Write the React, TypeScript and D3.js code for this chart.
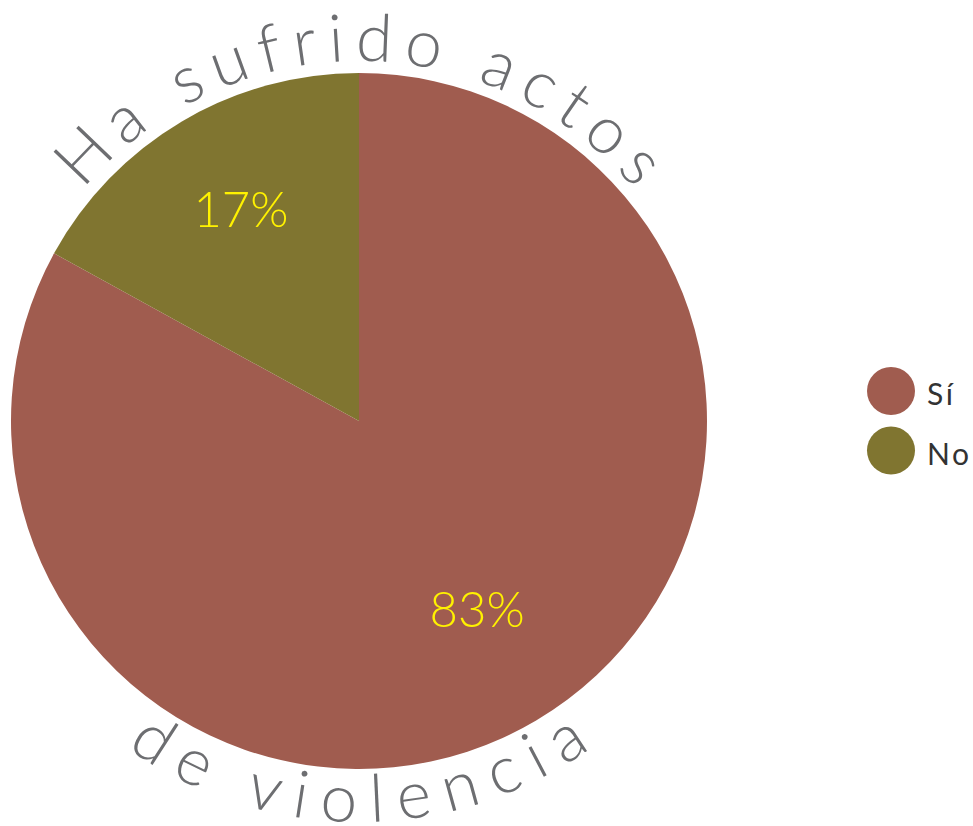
import React from "react";
import * as d3 from "d3";

const categories = ["Sí", "No"];
const values = [83, 17];
const percentLabels = ["83%", "17%"];
const colors = ["#a05c4f", "#807530"];
const titleTop = "Ha sufrido actos";
const titleBottom = "de violencia";

const W = 973;
const H = 826;
const cx = 359;
const cy = 421;
const R = 348;
const FONT = "Lato, 'Open Sans', sans-serif";

export default function App() {
  const pie = d3.pie<number>().sort(null).value((d) => d);
  const arcs = pie(values);
  const arcGen = d3.arc<d3.PieArcDatum<number>>().innerRadius(0).outerRadius(R);
  const labelArc = d3.arc<d3.PieArcDatum<number>>().innerRadius(232).outerRadius(232);

  const rTop = 360;
  const rBot = 401;
  const topPath = `M ${cx - rTop} ${cy} A ${rTop} ${rTop} 0 0 1 ${cx + rTop} ${cy}`;
  const botPath = `M ${cx - rBot} ${cy} A ${rBot} ${rBot} 0 0 0 ${cx + rBot} ${cy}`;

  return (
    <svg
      width={W}
      height={H}
      style={{ position: "absolute", left: 0, top: 0, background: "#fff" }}
    >
      <defs>
        <path id="arcTop" d={topPath} />
        <path id="arcBot" d={botPath} />
      </defs>
      <g transform={`translate(${cx},${cy})`}>
        {arcs.map((a, i) => (
          <path key={categories[i]} d={arcGen(a) || ""} fill={colors[i]} />
        ))}
        {arcs.map((a, i) => {
          const [x, y] = labelArc.centroid(a);
          return (
            <text
              key={"l" + i}
              x={x}
              y={y + 6}
              textAnchor="middle"
              fill="#fff200"
              fontFamily={FONT}
              fontWeight={300}
              fontSize={49}
            >
              {percentLabels[i]}
            </text>
          );
        })}
      </g>
      <text fill="#6d6e71" fontFamily={FONT} fontWeight={300} fontSize={66}>
        <textPath
          href="#arcTop"
          startOffset="50%"
          textAnchor="middle"
          textLength={628}
          lengthAdjust="spacing"
        >
          {titleTop}
        </textPath>
      </text>
      <text fill="#6d6e71" fontFamily={FONT} fontWeight={300} fontSize={66}>
        <textPath
          href="#arcBot"
          startOffset="50%"
          textAnchor="middle"
          textLength={495}
          lengthAdjust="spacing"
        >
          {titleBottom}
        </textPath>
      </text>
      <g>
        {categories.map((c, i) => (
          <g key={c} transform={`translate(891,${391 + i * 59.5})`}>
            <circle r={24} fill={colors[i]} />
            <text
              x={36}
              y={14}
              fontFamily={FONT}
              fontSize={30}
              letterSpacing={2.5}
              fill="#333"
            >
              {c}
            </text>
          </g>
        ))}
      </g>
    </svg>
  );
}
